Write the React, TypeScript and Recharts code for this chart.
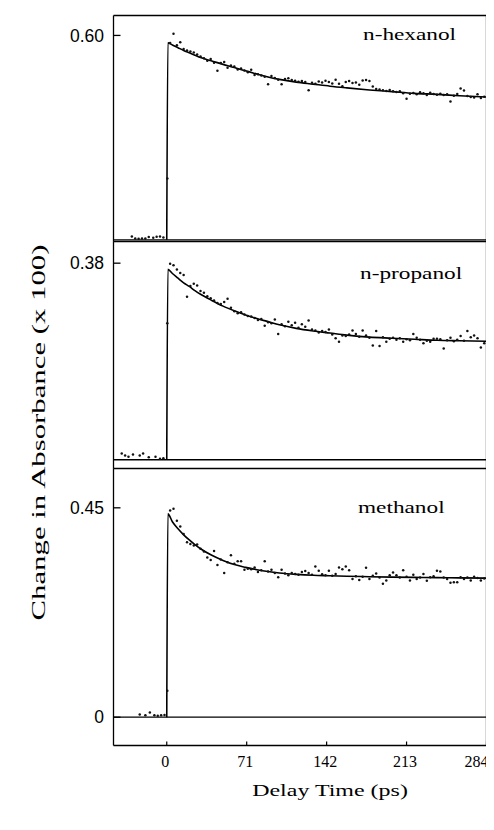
import React from 'react';
import { ComposedChart, Line, Scatter, XAxis, YAxis, ReferenceLine } from 'recharts';

// ---------- data ----------
const X_MIN = -47.3;
const X_MAX = 284;
const xTicks = [0, 71, 142, 213, 284];

const delays = [
  3, 6, 9, 12, 15, 18, 21, 24, 27, 30, 33, 36, 39, 42, 45, 48, 51, 54, 57, 60,
  63, 66, 69, 72, 75, 78, 81, 84, 87, 90, 93, 96, 99, 102, 105, 108, 111, 114, 117, 120,
  123, 126, 129, 132, 135, 138, 141, 144, 147, 150, 153, 156, 159, 162, 165, 168, 171, 174, 177, 180,
  183, 186, 189, 192, 195, 198, 201, 204, 207, 210, 213, 216, 219, 222, 225, 228, 231, 234, 237, 240,
  243, 246, 249, 252, 255, 258, 261, 264, 267, 270, 273, 276, 279, 282,
];

const hexanolValues = [
  0.578, 0.605, 0.571, 0.58, 0.56, 0.556, 0.553, 0.55, 0.544, 0.538, 0.533, 0.526, 0.531, 0.52, 0.496, 0.519, 0.522, 0.505, 0.512, 0.509,
  0.5, 0.503, 0.497, 0.492, 0.499, 0.484, 0.486, 0.482, 0.479, 0.457, 0.481, 0.475, 0.47, 0.457, 0.472, 0.474, 0.469, 0.467, 0.464, 0.466,
  0.463, 0.439, 0.461, 0.458, 0.465, 0.462, 0.467, 0.463, 0.459, 0.47, 0.458, 0.451, 0.463, 0.466, 0.46, 0.462, 0.455, 0.468, 0.469, 0.466,
  0.45, 0.443, 0.441, 0.439, 0.437, 0.44, 0.436, 0.434, 0.436, 0.43, 0.414, 0.429, 0.431, 0.427, 0.433, 0.43, 0.425, 0.432, 0.428, 0.426,
  0.429, 0.425, 0.427, 0.406, 0.423, 0.428, 0.444, 0.438, 0.422, 0.419, 0.418, 0.427, 0.416, 0.42,
];

const propanolValues = [
  0.379, 0.376, 0.368, 0.361, 0.357, 0.315, 0.336, 0.34, 0.337, 0.326, 0.323, 0.316, 0.312, 0.308, 0.303, 0.301, 0.305, 0.311, 0.294, 0.287,
  0.283, 0.285, 0.281, 0.278, 0.277, 0.274, 0.27, 0.272, 0.259, 0.266, 0.264, 0.271, 0.243, 0.262, 0.258, 0.267, 0.26, 0.265, 0.255, 0.262,
  0.257, 0.269, 0.252, 0.25, 0.246, 0.249, 0.247, 0.252, 0.242, 0.235, 0.228, 0.24, 0.239, 0.242, 0.25, 0.243, 0.238, 0.25, 0.24, 0.236,
  0.221, 0.249, 0.22, 0.237, 0.228, 0.234, 0.236, 0.232, 0.235, 0.228, 0.233, 0.231, 0.243, 0.236, 0.232, 0.225, 0.23, 0.228, 0.234, 0.234,
  0.233, 0.215, 0.231, 0.236, 0.229, 0.232, 0.239, 0.23, 0.249, 0.237, 0.24, 0.235, 0.217, 0.225,
];

const methanolValues = [
  0.444, 0.448, 0.422, 0.41, 0.394, 0.376, 0.372, 0.369, 0.371, 0.362, 0.356, 0.343, 0.338, 0.357, 0.327, 0.339, 0.31, 0.333, 0.348, 0.33,
  0.335, 0.335, 0.317, 0.319, 0.318, 0.322, 0.312, 0.316, 0.335, 0.313, 0.317, 0.31, 0.301, 0.317, 0.309, 0.305, 0.31, 0.308, 0.306, 0.312,
  0.314, 0.31, 0.306, 0.324, 0.315, 0.307, 0.305, 0.315, 0.304, 0.308, 0.322, 0.318, 0.324, 0.316, 0.297, 0.303, 0.295, 0.302, 0.321, 0.297,
  0.304, 0.309, 0.3, 0.287, 0.294, 0.305, 0.311, 0.305, 0.3, 0.316, 0.302, 0.294, 0.306, 0.297, 0.3, 0.308, 0.293, 0.301, 0.303, 0.315,
  0.313, 0.3, 0.297, 0.289, 0.29, 0.29, 0.301, 0.297, 0.3, 0.294, 0.302, 0.299, 0.294, 0.298,
];

// points before / at time zero: [delay, value]
const hexanolEarly = [
  [-31, 0.01], [-28, 0.004], [-25, 0.003], [-22, 0.004], [-19, 0.004], [-16, 0.008],
  [-12, 0.006], [-9, 0.009], [-6, 0.01], [-3, 0.007], [0.5, 0.18],
];
const propanolEarly = [
  [-40, 0.012], [-37, 0.008], [-34, 0.006], [-30, 0.01], [-24, 0.008], [-21, 0.012],
  [-16, 0.005], [-10, 0.006], [-6, 0.002], [-3, 0.003], [0.5, 0.264],
];
const methanolEarly = [
  [-24, 0.006], [-19, 0.004], [-15, 0.01], [-11, 0.004], [-8, 0.003], [-5, 0.004],
  [-2, 0.005], [0.5, 0.057],
];

// fitted curves
const fitTimes = [0, 1, 5, 10, 15, 20, 25, 30, 40, 50, 60, 70, 80, 90, 100, 115, 130, 145, 160, 180, 200, 220, 240, 260, 284];
const hexanolFit = [0, 0.578, 0.572, 0.564, 0.556, 0.549, 0.542, 0.535, 0.525, 0.515, 0.506, 0.496, 0.487, 0.478, 0.471, 0.463, 0.457, 0.451, 0.446, 0.44, 0.435, 0.43, 0.427, 0.423, 0.419];
const propanolFit = [0, 0.368, 0.36, 0.351, 0.342, 0.335, 0.327, 0.32, 0.308, 0.297, 0.288, 0.28, 0.273, 0.267, 0.261, 0.254, 0.249, 0.245, 0.241, 0.237, 0.235, 0.233, 0.231, 0.23, 0.229];
const methanolFit = [0, 0.437, 0.42, 0.405, 0.392, 0.381, 0.371, 0.362, 0.348, 0.337, 0.328, 0.322, 0.317, 0.313, 0.31, 0.307, 0.305, 0.304, 0.303, 0.302, 0.301, 0.3005, 0.3, 0.2995, 0.299];

const panelNames = ['n-hexanol', 'n-propanol', 'methanol'];
const hexanolTicks = [0.6];
const propanolTicks = [0.38];
const methanolTicks = [0, 0.45];

// ---------- helpers ----------
const buildPoints = (early: number[][], values: number[]) => [
  ...early.map(([t, v]) => ({ t, v })),
  ...delays.map((t, i) => ({ t, v: values[i] })),
];
const buildFit = (values: number[]) => fitTimes.map((t, i) => ({ t, v: values[i] }));

const Dot = (p: any) => <circle cx={p.cx} cy={p.cy} r={1.25} fill="#111" />;

const fmtY = (v: number) => (v === 0 ? '0' : v.toFixed(2));

const XTick = (p: any) => {
  const isLast = p.payload.value === X_MAX;
  return (
    <text
      x={p.x - (isLast ? 10 : 1.5)}
      y={p.y}
      dy="0.71em"
      textAnchor="middle"
      fontSize={16}
      fontFamily="Liberation Serif"
      fill="#000"
    >
      {p.payload.value}
    </text>
  );
};

type PanelProps = {
  top: number;
  height: number;
  margin: { top: number; bottom: number; left: number; right: number };
  domain: [number, number];
  ticks: number[];
  points: { t: number; v: number }[];
  fit: { t: number; v: number }[];
  showX: boolean;
};

const Panel = ({ top, height, margin, domain, ticks, points, fit, showX }: PanelProps) => (
  <div style={{ position: 'absolute', left: 0, top }}>
    <ComposedChart width={486} height={height} margin={margin}>
      <XAxis
        type="number"
        dataKey="t"
        domain={[X_MIN, X_MAX]}
        ticks={xTicks}
        allowDataOverflow
        hide={!showX}
        height={30}
        axisLine={false}
        tickSize={-4}
        tickMargin={14}
        tickLine={{ stroke: '#000', strokeWidth: 1.2 }}
        tick={<XTick />}
        interval={0}
      />
      <YAxis
        type="number"
        dataKey="v"
        domain={domain}
        ticks={ticks}
        allowDataOverflow
        width={105}
        axisLine={false}
        tickSize={-7}
        tickMargin={16.5}
        tickLine={{ stroke: '#000', strokeWidth: 1.3 }}
        tick={{ fontSize: 17.5, fontFamily: 'Liberation Sans', fill: '#000' }}
        tickFormatter={fmtY}
        interval={0}
      />
      <ReferenceLine y={0} stroke="#000" strokeWidth={1.3} ifOverflow="visible" />
      <ReferenceLine x={X_MIN} stroke="#000" strokeWidth={1.3} ifOverflow="visible" />
      <ReferenceLine x={X_MAX} stroke="#000" strokeWidth={1.3} ifOverflow="visible" />
      <ReferenceLine y={domain[0]} stroke="#000" strokeWidth={1.3} ifOverflow="visible" />
      <ReferenceLine y={domain[1]} stroke="#000" strokeWidth={1.3} ifOverflow="visible" />
      <Line
        data={fit}
        dataKey="v"
        type="monotone"
        stroke="#000"
        strokeWidth={1.6}
        dot={false}
        isAnimationActive={false}
      />
      <Scatter data={points} dataKey="v" shape={Dot} isAnimationActive={false} />
    </ComposedChart>
  </div>
);

export default function App() {
  const textStyle = { fontFamily: 'Liberation Serif', fill: '#000' } as const;
  return (
    <div style={{ position: 'relative', width: 486, height: 822, background: '#fff' }}>
      <Panel
        top={0}
        height={234}
        margin={{ top: 7.5, bottom: 0.5, left: 0.5, right: 7.5 }}
        domain={[-0.005, 0.6585]}
        ticks={hexanolTicks}
        points={buildPoints(hexanolEarly, hexanolValues)}
        fit={buildFit(hexanolFit)}
        showX={false}
      />
      <Panel
        top={233}
        height={228}
        margin={{ top: 0.5, bottom: 0.5, left: 0.5, right: 7.5 }}
        domain={[-0.0169, 0.4219]}
        ticks={propanolTicks}
        points={buildPoints(propanolEarly, propanolValues)}
        fit={buildFit(propanolFit)}
        showX={false}
      />
      <Panel
        top={460}
        height={308}
        margin={{ top: 0.5, bottom: 0.5, left: 0.5, right: 7.5 }}
        domain={[-0.0608, 0.5345]}
        ticks={methanolTicks}
        points={buildPoints(methanolEarly, methanolValues)}
        fit={buildFit(methanolFit)}
        showX={true}
      />
      <svg
        width={486}
        height={822}
        style={{ position: 'absolute', left: 0, top: 0, pointerEvents: 'none' }}
      >
        <text transform="translate(355,32) scale(1.37,1)" fontSize={17} {...textStyle}>
          {panelNames[0]}
        </text>
        <text transform="translate(352,271.3) scale(1.37,1)" fontSize={17} {...textStyle}>
          {panelNames[1]}
        </text>
        <text transform="translate(350,505.3) scale(1.37,1)" fontSize={17} {...textStyle}>
          {panelNames[2]}
        </text>
        <text
          transform="translate(37,424.5) rotate(-90) scale(1.62,1)"
          fontSize={19}
          textAnchor="middle"
          {...textStyle}
        >
          Change in Absorbance (x 100)
        </text>
        <text transform="translate(322,788) scale(1.37,1)" fontSize={17.5} textAnchor="middle" {...textStyle}>
          Delay Time (ps)
        </text>
      </svg>
    </div>
  );
}
